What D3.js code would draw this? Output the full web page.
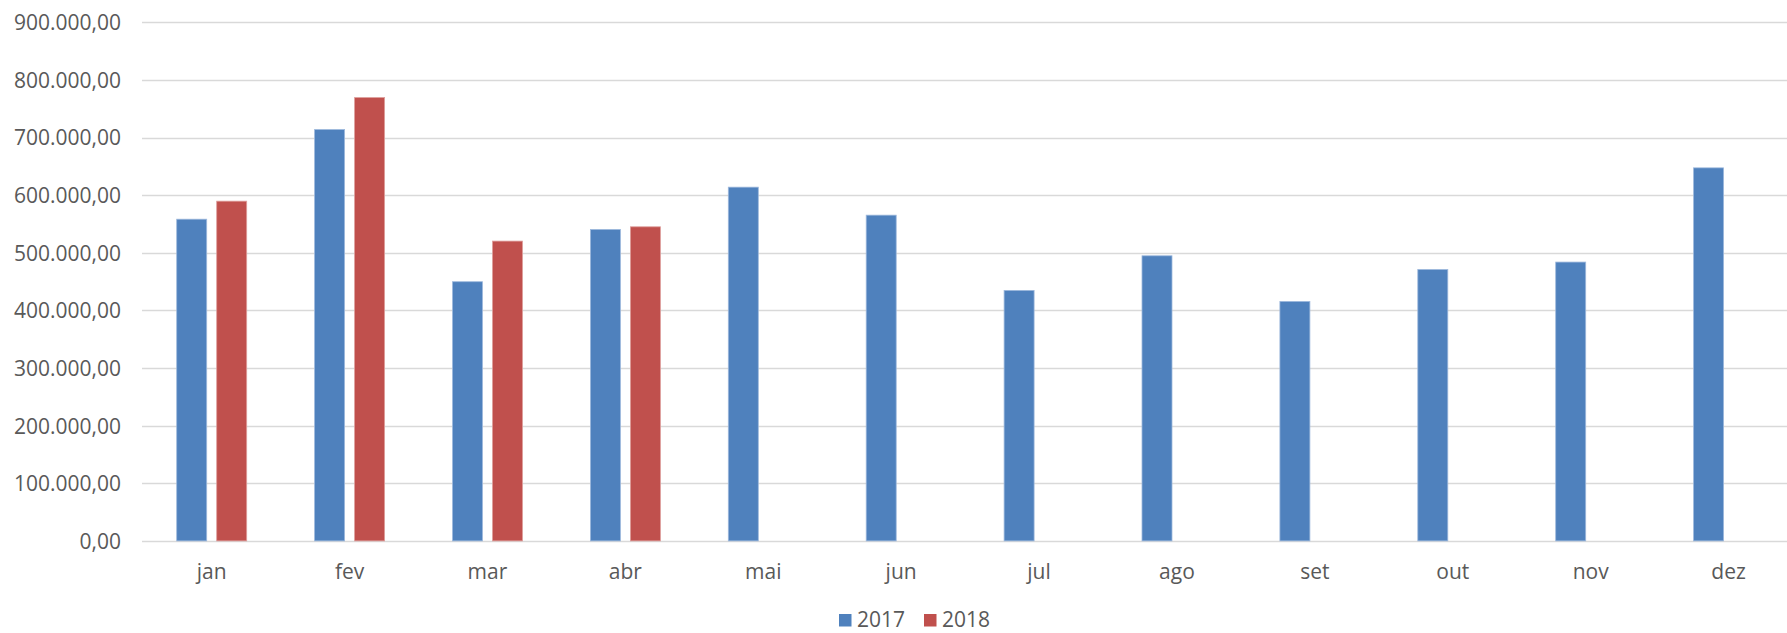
<!DOCTYPE html>
<html>
<head>
<meta charset="utf-8">
<script src="https://cdn.jsdelivr.net/npm/d3@7"></script>
<style>
  html, body { margin: 0; padding: 0; background: #fff; overflow: hidden; }
  svg { display: block; }
  text { font-family: "Open Sans", "DejaVu Sans", sans-serif; fill: #595959; }
</style>
</head>
<body>
<svg id="chart" width="1787" height="633"></svg>
<script>
// Monthly totals, 2017 vs 2018
const months = ["jan", "fev", "mar", "abr", "mai", "jun", "jul", "ago", "set", "out", "nov", "dez"];
const seriesNames = ["2017", "2018"];
const values2017 = [558300, 713900, 449800, 540500, 613900, 565300, 434700, 494800, 415600, 471000, 483900, 647400];
const values2018 = [589600, 769400, 520300, 545100, null, null, null, null, null, null, null, null];
const yTicks = [0, 100000, 200000, 300000, 400000, 500000, 600000, 700000, 800000, 900000];
const colors = ["#4F81BD", "#C0504D"];
const strokes = ["#9DB8DC", "#DE9E9C"];

const W = 1787, H = 633;
const plotLeft = 142.7, catStep = 137.9;
const yTop = 22.3, yBottom = 540.9;

const svg = d3.select("#chart");

const ptBR = d3.formatLocale({ decimal: ",", thousands: ".", grouping: [3], currency: ["R$", ""] });
const fmt = ptBR.format(",.2f");

const x = d3.scaleBand()
  .domain(months)
  .range([plotLeft, plotLeft + catStep * months.length])
  .paddingInner(0).paddingOuter(0);

const xs = d3.scaleBand()
  .domain(seriesNames)
  .range([34, 104])
  .paddingInner(0.25).paddingOuter(0);

const y = d3.scaleLinear().domain([0, 900000]).range([yBottom, yTop]);

// horizontal gridlines (0 line doubles as the category axis)
svg.append("g")
  .selectAll("line")
  .data(yTicks)
  .join("line")
  .attr("x1", plotLeft - 0.7)
  .attr("x2", W + 20)
  .attr("y1", d => Math.round(y(d)) + 0.5)
  .attr("y2", d => Math.round(y(d)) + 0.5)
  .attr("stroke", "#D9D9D9")
  .attr("stroke-width", 1.3);

// value axis labels
const yAxis = d3.axisLeft(y).tickValues(yTicks).tickFormat(fmt).tickSize(0).tickPadding(0);
const gy = svg.append("g").attr("transform", "translate(121,0)").call(yAxis);
gy.select(".domain").remove();
gy.selectAll("text")
  .attr("font-family", "'Open Sans', sans-serif")
  .attr("font-size", 21)
  .attr("fill", "#595959")
  .attr("dy", "0.35em");

// bars
const rows = months.map((m, i) => ({ month: m, vals: [values2017[i], values2018[i]] }));
const groups = svg.append("g")
  .selectAll("g")
  .data(rows)
  .join("g")
  .attr("transform", d => `translate(${x(d.month)},0)`);

groups.selectAll("rect")
  .data(d => d.vals.map((v, k) => ({ key: seriesNames[k], k, v })).filter(e => e.v != null))
  .join("rect")
  .attr("x", e => xs(e.key))
  .attr("width", xs.bandwidth())
  .attr("y", e => y(e.v))
  .attr("height", e => y(0) - y(e.v))
  .attr("fill", e => colors[e.k])
  .attr("stroke", e => strokes[e.k])
  .attr("stroke-width", 0.8);

// category labels
const xAxis = d3.axisBottom(x).tickSize(0).tickPadding(0);
const gx = svg.append("g").attr("transform", "translate(0,572)").call(xAxis);
gx.select(".domain").remove();
gx.selectAll("text")
  .attr("font-family", "'Open Sans', sans-serif")
  .attr("font-size", 21)
  .attr("fill", "#595959")
  .attr("dy", "0.35em");

// legend, kept fully inside the bottom edge
const legend = svg.append("g").attr("transform", "translate(839,0)");
const legendX = [0, 85];
seriesNames.forEach((name, k) => {
  const g = legend.append("g").attr("transform", `translate(${legendX[k]},0)`);
  g.append("rect")
    .attr("x", 0).attr("y", 614)
    .attr("width", 12.5).attr("height", 12.5)
    .attr("fill", colors[k]);
  g.append("text")
    .attr("x", 18).attr("y", 627)
    .attr("font-size", 21)
    .text(name);
});
</script>
</body>
</html>
